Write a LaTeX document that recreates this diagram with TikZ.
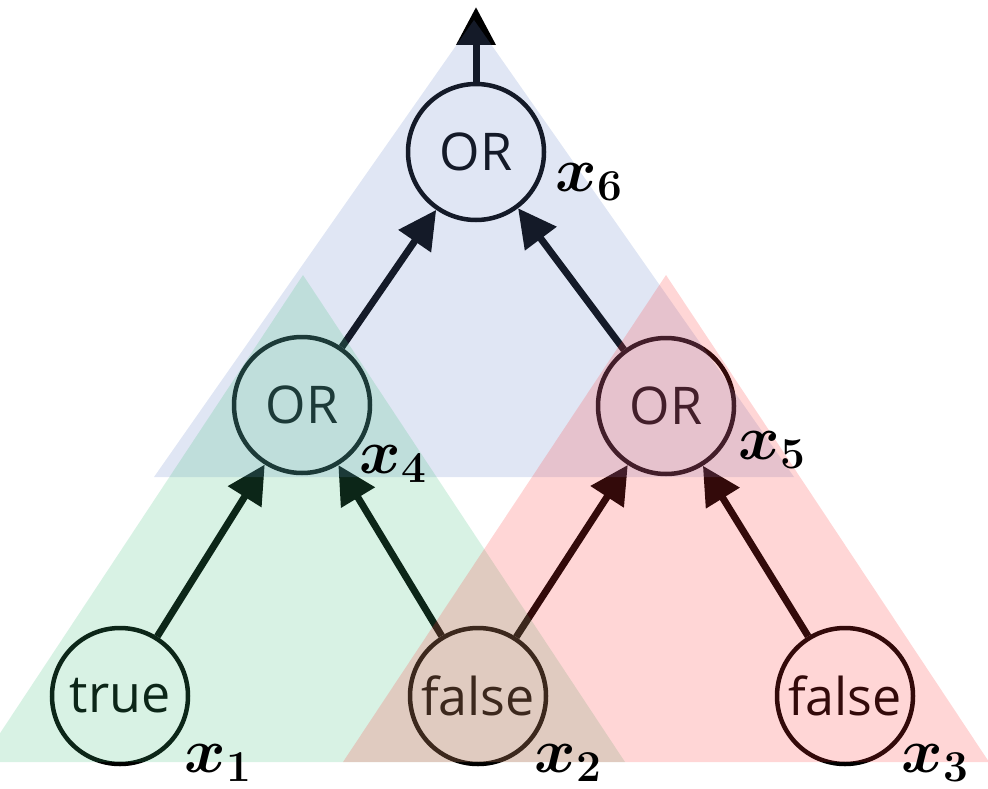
\documentclass[tikz,border=0pt]{standalone}
\usepackage{fix-cm}
\usepackage{amsmath}
\usepackage{bm}
\usepackage{fontspec}
\newfontfamily\gatefont{Open Sans}
\usetikzlibrary{arrows.meta}
\definecolor{triblue}{RGB}{100,130,200}
\definecolor{trigreen}{RGB}{60,190,120}
\definecolor{trired}{RGB}{255,50,50}
\begin{document}
\begin{tikzpicture}[x=1pt,y=-1pt,
  gate/.style={circle, draw=black, line width=4.5pt, minimum size=136pt, inner sep=0pt,
    font=\gatefont\fontsize{52}{56}\selectfont},
  edge/.style={draw=black, line width=7pt, -{Triangle[length=38pt,width=38pt]}},
  lab/.style={inner sep=0pt, font=\fontsize{63}{70}\selectfont},
  tri/.style={fill opacity=0.2, draw=none}]
\useasboundingbox (0,0) rectangle (988,789);
% nodes
\node[gate] (x6) at (476,152) {OR};
\node[gate] (x4) at (302,405) {OR};
\node[gate] (x5) at (666,406) {OR};
\node[gate] (x1) at (120,696) {true};
\node[gate] (x2) at (478,696) {false};
\node[gate] (x3) at (845,696) {false};
\coordinate (out) at (476,7);
% connectors
\draw[edge] (x6) -- (out);
\draw[edge] (x4) -- (x6);
\draw[edge] (x5) -- (x6);
\draw[edge] (x1) -- (x4);
\draw[edge] (x2) -- (x4);
\draw[edge] (x2) -- (x5);
\draw[edge] (x3) -- (x5);
% translucent triangles
\begin{scope}
\clip (0,0) rectangle (988,789);
\fill[tri, fill=triblue] (474,20) -- (154,477) -- (794,477) -- cycle;
\fill[tri, fill=trigreen] (303,275) -- (-19,762) -- (625,762) -- cycle;
\fill[tri, fill=trired] (666,275) -- (343,762) -- (989,762) -- cycle;
\end{scope}
% labels
\node[lab] (l6) at (589,182) {$\bm{x_{6}}$};
\node[lab] (l4) at (393,464) {$\bm{x_{4}}$};
\node[lab] (l5) at (772,450) {$\bm{x_{5}}$};
\node[lab] (l1) at (218,763) {$\bm{x_{1}}$};
\node[lab] (l2) at (568,763) {$\bm{x_{2}}$};
\node[lab] (l3) at (935,763) {$\bm{x_{3}}$};
\end{tikzpicture}
\end{document}
